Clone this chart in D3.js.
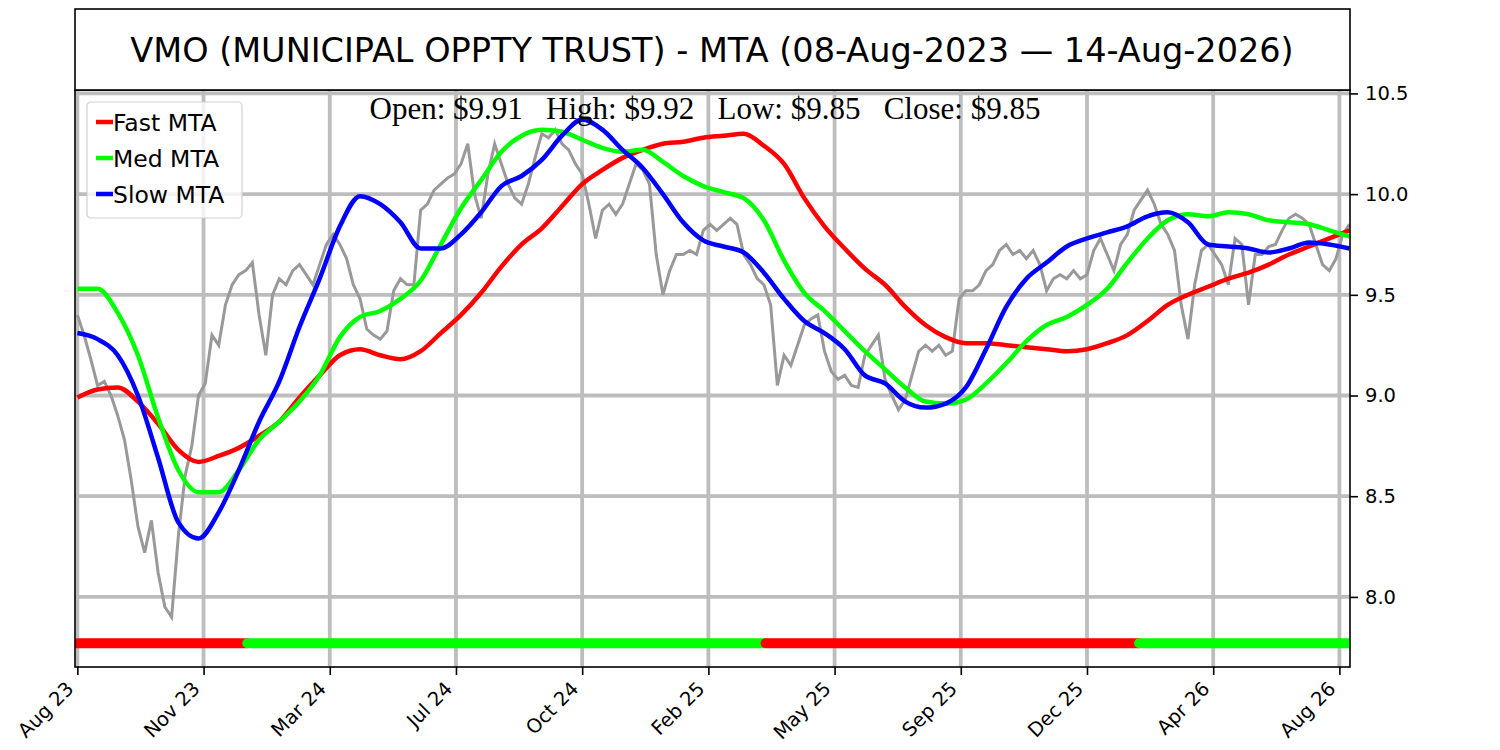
<!DOCTYPE html>
<head>
  <meta charset="utf-8">
  <style>
    body { margin:0; background:#fff; }
    text { font-family:"DejaVu Sans", sans-serif; }
    .grid line { stroke:#bdbdbd; stroke-width:3.8; }
    .axis text { font-size:19.5px; fill:#000; }
    .axis path, .axis line { stroke:#000; stroke-width:1.6; }
  </style>
</head>
<body>
  <script src="https://d3js.org/d3.v7.min.js"></script>
  <script>

    // DATA
    let title = "VMO (MUNICIPAL OPPTY TRUST) - MTA (08-Aug-2023 \u2014 14-Aug-2026)";
    let ohlcText = "Open: $9.91   High: $9.92   Low: $9.85   Close: $9.85";

    let tickBars = [0, 75, 150, 225, 300, 375, 450, 525, 600, 675, 750];
    let tickLabels = ["Aug 23", "Nov 23", "Mar 24", "Jul 24", "Oct 24", "Feb 25",
                      "May 25", "Sep 25", "Dec 25", "Apr 26", "Aug 26"];
    let yTicks = [8.0, 8.5, 9.0, 9.5, 10.0, 10.5];

    // close price, one value every 4 bars
    let priceStep = 4;
    let closes = [
      9.40, 9.30, 9.18, 9.05, 9.07, 9.00, 8.90, 8.78, 8.58, 8.35,
      8.22, 8.38, 8.12, 7.95, 7.90, 8.30, 8.60, 8.75, 9.00, 9.06,
      9.30, 9.25, 9.45, 9.55, 9.60, 9.62, 9.66, 9.40, 9.20, 9.50,
      9.58, 9.55, 9.62, 9.65, 9.60, 9.55, 9.65, 9.75, 9.80, 9.75,
      9.68, 9.55, 9.48, 9.33, 9.30, 9.28, 9.32, 9.52, 9.58, 9.55,
      9.55, 9.92, 9.95, 10.02, 10.05, 10.08, 10.10, 10.15, 10.25, 10.00,
      9.88, 10.10, 10.25, 10.15, 10.05, 9.98, 9.95, 10.05, 10.18, 10.30,
      10.28, 10.32, 10.25, 10.22, 10.15, 10.10, 9.95, 9.78, 9.92, 9.95,
      9.90, 9.95, 10.05, 10.15, 10.12, 10.05, 9.70, 9.50, 9.62, 9.70,
      9.70, 9.72, 9.70, 9.82, 9.85, 9.82, 9.85, 9.88, 9.85, 9.70,
      9.65, 9.58, 9.55, 9.45, 9.05, 9.20, 9.15, 9.25, 9.35, 9.38,
      9.40, 9.22, 9.12, 9.08, 9.10, 9.05, 9.04, 9.20, 9.25, 9.30,
      9.08, 9.00, 8.93, 8.98, 9.10, 9.22, 9.25, 9.22, 9.25, 9.20,
      9.22, 9.48, 9.52, 9.52, 9.55, 9.62, 9.65, 9.72, 9.75, 9.70,
      9.72, 9.68, 9.72, 9.65, 9.52, 9.58, 9.60, 9.58, 9.62, 9.58,
      9.60, 9.72, 9.78, 9.70, 9.62, 9.75, 9.80, 9.92, 9.97, 10.02,
      9.95, 9.85, 9.80, 9.72, 9.45, 9.28, 9.55, 9.72, 9.75, 9.70,
      9.65, 9.55, 9.78, 9.75, 9.45, 9.70, 9.70, 9.74, 9.75, 9.82,
      9.88, 9.90, 9.88, 9.85, 9.75, 9.65, 9.62, 9.68, 9.80, 9.85
    ];

    // moving trend averages, one value every 12 bars
    let mtaStep = 12;
    let fastMTA = [
      8.99, 9.03, 9.04, 8.97, 8.86, 8.73, 8.67, 8.70, 8.74, 8.80,
      8.87, 8.99, 9.10, 9.20, 9.23, 9.20, 9.18, 9.22, 9.31, 9.40,
      9.51, 9.64, 9.75, 9.83, 9.94, 10.05, 10.12, 10.18, 10.22, 10.25,
      10.26, 10.28, 10.29, 10.30, 10.24, 10.15, 9.98, 9.84, 9.73, 9.63,
      9.55, 9.44, 9.35, 9.29, 9.26, 9.26, 9.25, 9.24, 9.23, 9.22,
      9.23, 9.26, 9.30, 9.37, 9.45, 9.50, 9.54, 9.58, 9.61, 9.65,
      9.70, 9.74, 9.78, 9.82
    ];
    let medMTA = [
      9.53, 9.53, 9.41, 9.20, 8.89, 8.63, 8.52, 8.52, 8.63, 8.78,
      8.87, 8.97, 9.10, 9.29, 9.39, 9.42, 9.48, 9.57, 9.75, 9.93,
      10.07, 10.21, 10.29, 10.32, 10.31, 10.27, 10.23, 10.21, 10.22, 10.16,
      10.09, 10.04, 10.01, 9.98, 9.87, 9.67, 9.51, 9.42, 9.32, 9.22,
      9.13, 9.04, 8.97, 8.96, 8.98, 9.06, 9.16, 9.27, 9.35, 9.39,
      9.45, 9.53, 9.66, 9.78, 9.87, 9.90, 9.89, 9.91, 9.90, 9.87,
      9.86, 9.85, 9.82, 9.79
    ];
    let slowMTA = [
      9.31, 9.28, 9.20, 9.00, 8.69, 8.37, 8.29, 8.42, 8.63, 8.87,
      9.07, 9.34, 9.58, 9.84, 9.99, 9.95, 9.86, 9.73, 9.73, 9.80,
      9.91, 10.04, 10.09, 10.17, 10.29, 10.37, 10.32, 10.22, 10.13, 10.00,
      9.86, 9.77, 9.74, 9.71, 9.61, 9.48, 9.37, 9.31, 9.23, 9.10,
      9.06, 8.97, 8.94, 8.96, 9.04, 9.23, 9.44, 9.58, 9.66, 9.74,
      9.78, 9.81, 9.84, 9.89, 9.91, 9.86, 9.75, 9.74, 9.73, 9.71,
      9.73, 9.76, 9.75, 9.73
    ];

    // signal bar: bar index where each state starts, last entry = final bar
    let signalBreaks = [0, 101, 409, 631, 756];
    let signalStates = ["down", "up", "down", "up"];

    let seriesNames = ["Fast MTA", "Med MTA", "Slow MTA"];
    let seriesColors = ["#ff0000", "#00ff00", "#0000ff"];

    // DIMENSIONS
    let width = 1500, height = 750;
    let plotLeft = 75, plotRight = 1350, plotTop = 90, plotBottom = 667;

    let svg = d3.select("body").append("svg")
      .attr("width", width)
      .attr("height", height);

    let x = d3.scaleLinear().domain([-1.4, 756.3]).range([plotLeft, plotRight]);
    let y = d3.scaleLinear().domain([7.652, 10.517]).range([plotBottom, plotTop]);

    svg.append("clipPath").attr("id", "plot")
      .append("rect")
        .attr("x", plotLeft).attr("y", plotTop)
        .attr("width", plotRight - plotLeft).attr("height", plotBottom - plotTop);

    // GRID
    let grid = svg.append("g").attr("class", "grid").attr("clip-path", "url(#plot)");
    grid.selectAll("line.v").data(tickBars).enter().append("line")
      .attr("class", "v")
      .attr("x1", d => x(d)).attr("x2", d => x(d))
      .attr("y1", plotTop).attr("y2", plotBottom);
    grid.selectAll("line.h").data(yTicks).enter().append("line")
      .attr("class", "h")
      .attr("x1", plotLeft).attr("x2", plotRight)
      .attr("y1", d => y(d)).attr("y2", d => y(d));

    let plot = svg.append("g").attr("clip-path", "url(#plot)");

    // PRICE
    plot.append("path")
      .datum(closes)
      .attr("fill", "none")
      .attr("stroke", "#999999")
      .attr("stroke-width", 3)
      .attr("d", d3.line().x((d, i) => x(i * priceStep)).y(d => y(d)));

    // MTA LINES
    let mtaLine = d3.line()
      .x((d, i) => x(i * mtaStep))
      .y(d => y(d))
      .curve(d3.curveMonotoneX);

    [fastMTA, medMTA, slowMTA].forEach((s, k) => {
      plot.append("path")
        .datum(s)
        .attr("fill", "none")
        .attr("stroke", seriesColors[k])
        .attr("stroke-width", 4.5)
        .attr("stroke-linejoin", "round")
        .attr("d", mtaLine);
    });

    // SIGNAL BAR
    let signalY = 7.77;
    signalStates.forEach((s, k) => {
      plot.append("line")
        .attr("x1", x(signalBreaks[k])).attr("x2", x(signalBreaks[k + 1]))
        .attr("y1", y(signalY)).attr("y2", y(signalY))
        .attr("stroke", s === "up" ? "#00ff00" : "#ff0000")
        .attr("stroke-width", 10)
        .attr("stroke-linecap", "round");
    });

    // AXES
    let xAxis = svg.append("g")
      .attr("class", "axis")
      .attr("transform", "translate(0," + plotBottom + ")")
      .call(d3.axisBottom(x).tickValues(tickBars)
        .tickFormat((d, i) => tickLabels[i]).tickSize(8).tickSizeOuter(0));
    xAxis.select(".domain").remove();
    xAxis.selectAll("text")
      .attr("text-anchor", "end")
      .attr("x", 0).attr("y", 0).attr("dy", 0)
      .attr("transform", "translate(-3,23) rotate(-45)");

    let yAxis = svg.append("g")
      .attr("class", "axis")
      .attr("transform", "translate(" + plotRight + ",0)")
      .call(d3.axisRight(y).tickValues(yTicks).tickFormat(d3.format(".1f"))
        .tickSize(8).tickPadding(7));
    yAxis.select(".domain").remove();
    yAxis.selectAll("text").style("font-size", "19.5px");

    // FRAME
    svg.append("rect")
      .attr("x", plotLeft).attr("y", plotTop)
      .attr("width", plotRight - plotLeft).attr("height", plotBottom - plotTop)
      .attr("fill", "none").attr("stroke", "#000").attr("stroke-width", 1.6);

    // TITLE BOX
    svg.append("rect")
      .attr("x", plotLeft).attr("y", 9)
      .attr("width", plotRight - plotLeft).attr("height", plotTop - 9)
      .attr("fill", "#fff").attr("stroke", "#000").attr("stroke-width", 1.6);
    svg.append("text")
      .attr("x", 712).attr("y", 62)
      .attr("text-anchor", "middle")
      .style("font-size", "33.5px")
      .text(title);

    // OHLC TEXT
    svg.append("text")
      .attr("x", 705).attr("y", 119)
      .attr("text-anchor", "middle")
      .style("font-family", "'Liberation Serif', serif")
      .style("font-size", "31px")
      .style("white-space", "pre")
      .text(ohlcText);

    // LEGEND
    let legend = svg.append("g").attr("transform", "translate(87,102)");
    legend.append("rect")
      .attr("width", 155).attr("height", 116)
      .attr("rx", 4)
      .attr("fill", "#fff").attr("fill-opacity", 0.8)
      .attr("stroke", "#d0d0d0").attr("stroke-width", 1.2);
    seriesNames.forEach((n, k) => {
      let gy = 20 + k * 36;
      legend.append("line")
        .attr("x1", 9).attr("x2", 26)
        .attr("y1", gy).attr("y2", gy)
        .attr("stroke", seriesColors[k]).attr("stroke-width", 4.5);
      legend.append("text")
        .attr("x", 26).attr("y", gy + 8.5)
        .style("font-size", "23.5px")
        .text(n);
    });

  </script>
</body>
